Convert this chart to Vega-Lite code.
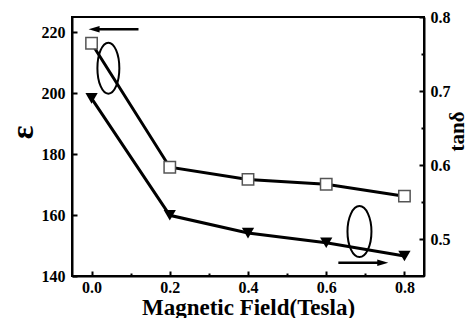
{
  "$schema": "https://vega.github.io/schema/vega-lite/v6.json",
  "width": 352,
  "height": 259,
  "autosize": "none",
  "padding": {"left": 72, "top": 17, "right": 45, "bottom": 42},
  "background": "white",
  "config": {
    "view": {"stroke": "black", "strokeWidth": 2},
    "axis": {
      "grid": false,
      "domainColor": "black",
      "domainWidth": 2,
      "tickColor": "black",
      "tickWidth": 2,
      "tickSize": -5,
      "labelPadding": 8,
      "labelFont": "Liberation Serif",
      "labelFontWeight": "bold",
      "labelFontSize": 16,
      "labelColor": "black",
      "titleFont": "Liberation Serif",
      "titleFontWeight": "bold",
      "titleColor": "black"
    }
  },
  "datasets": {
    "main": [
      {"field": 0.0, "eps": 216.4, "tand": 0.690},
      {"field": 0.2, "eps": 175.7, "tand": 0.532},
      {"field": 0.4, "eps": 171.7, "tand": 0.508},
      {"field": 0.6, "eps": 170.1, "tand": 0.495},
      {"field": 0.8, "eps": 166.2, "tand": 0.477}
    ],
    "epsNote": [{"cx": 0.043, "cy": 208.2, "ax1": 0.12, "ax2": 0.01, "ay": 221, "hx": 0.0064}],
    "tandNote": [{"cx": 0.685, "cy": 0.510, "ax1": 0.631, "ax2": 0.74, "ay": 0.468, "hx": 0.7446}]
  },
  "layer": [
    {
      "layer": [
        {
          "data": {"name": "main"},
          "mark": {"type": "line", "color": "black", "strokeWidth": 3},
          "encoding": {
            "x": {
              "field": "field", "type": "quantitative",
              "scale": {"domain": [-0.05, 0.85], "nice": false, "zero": false},
              "axis": {
                "title": "Magnetic Field(Tesla)",
                "titleFontSize": 23,
                "titleBaseline": "alphabetic",
                "titleY": 38,
                "values": [0, 0.1, 0.2, 0.3, 0.4, 0.5, 0.6, 0.7, 0.8],
                "labelExpr": "round(datum.value*10)%2==1 ? '' : format(datum.value,'.1f')",
                "tickDash": {"condition": {"test": "round(datum.value*10)%2==1", "value": [3, 20]}, "value": [10, 0]}
              }
            },
            "y": {
              "field": "eps", "type": "quantitative",
              "scale": {"domain": [140, 225], "nice": false, "zero": false},
              "axis": {
                "title": "ε",
                "titleFontSize": 32,
                "titleBaseline": "middle",
                "titleX": -50,
                "titleY": 115,
                "labelPadding": 12,
                "values": [140, 150, 160, 170, 180, 190, 200, 210, 220],
                "labelExpr": "datum.value % 20 != 0 ? '' : format(datum.value,'d')",
                "tickDash": {"condition": {"test": "datum.value % 20 != 0", "value": [3, 20]}, "value": [10, 0]}
              }
            }
          }
        },
        {
          "data": {"name": "main"},
          "mark": {"type": "point", "shape": "square", "filled": false, "fill": "white", "fillOpacity": 1, "stroke": "#555555", "strokeWidth": 1.5, "size": 130, "opacity": 1},
          "encoding": {
            "x": {"field": "field", "type": "quantitative"},
            "y": {"field": "eps", "type": "quantitative"}
          }
        },
        {
          "data": {"name": "epsNote"},
          "mark": {"type": "point", "shape": "M0,-1 A0.43,1 0 1,1 0,1 A0.43,1 0 1,1 0,-1 Z", "filled": false, "stroke": "black", "strokeWidth": 2, "size": 2601, "opacity": 1},
          "encoding": {
            "x": {"field": "cx", "type": "quantitative"},
            "y": {"field": "cy", "type": "quantitative"}
          }
        },
        {
          "data": {"name": "epsNote"},
          "mark": {"type": "rule", "color": "black", "strokeWidth": 2.5},
          "encoding": {
            "x": {"field": "ax1", "type": "quantitative"},
            "x2": {"field": "ax2"},
            "y": {"field": "ay", "type": "quantitative"}
          }
        },
        {
          "data": {"name": "epsNote"},
          "mark": {"type": "point", "shape": "M-1,0 L1,-0.6 L1,0.6 Z", "filled": true, "color": "black", "size": 121, "opacity": 1},
          "encoding": {
            "x": {"field": "hx", "type": "quantitative"},
            "y": {"field": "ay", "type": "quantitative"}
          }
        }
      ]
    },
    {
      "layer": [
        {
          "data": {"name": "main"},
          "mark": {"type": "line", "color": "black", "strokeWidth": 3},
          "encoding": {
            "x": {"field": "field", "type": "quantitative"},
            "y": {
              "field": "tand", "type": "quantitative",
              "scale": {"domain": [0.45, 0.8], "nice": false, "zero": false},
              "axis": {
                "orient": "right",
                "title": "tanδ",
                "titleFontSize": 21,
                "titleAngle": -90,
                "titleBaseline": "middle",
                "titleX": 33,
                "titleY": 114,
                "labelPadding": 11,
                "values": [0.5, 0.55, 0.6, 0.65, 0.7, 0.75, 0.8],
                "labelExpr": "round(datum.value*100)%10==5 ? '' : format(datum.value,'.1f')",
                "tickDash": {"condition": {"test": "round(datum.value*100)%10==5", "value": [3, 20]}, "value": [10, 0]}
              }
            }
          }
        },
        {
          "data": {"name": "main"},
          "mark": {"type": "point", "shape": "triangle-down", "filled": true, "color": "black", "size": 150, "opacity": 1},
          "encoding": {
            "x": {"field": "field", "type": "quantitative"},
            "y": {"field": "tand", "type": "quantitative"}
          }
        },
        {
          "data": {"name": "tandNote"},
          "mark": {"type": "point", "shape": "M0,-1 A0.47,1 0 1,1 0,1 A0.47,1 0 1,1 0,-1 Z", "filled": false, "stroke": "black", "strokeWidth": 2, "size": 2601, "opacity": 1},
          "encoding": {
            "x": {"field": "cx", "type": "quantitative"},
            "y": {"field": "cy", "type": "quantitative"}
          }
        },
        {
          "data": {"name": "tandNote"},
          "mark": {"type": "rule", "color": "black", "strokeWidth": 2.5},
          "encoding": {
            "x": {"field": "ax1", "type": "quantitative"},
            "x2": {"field": "ax2"},
            "y": {"field": "ay", "type": "quantitative"}
          }
        },
        {
          "data": {"name": "tandNote"},
          "mark": {"type": "point", "shape": "M1,0 L-1,-0.6 L-1,0.6 Z", "filled": true, "color": "black", "size": 121, "opacity": 1},
          "encoding": {
            "x": {"field": "hx", "type": "quantitative"},
            "y": {"field": "ay", "type": "quantitative"}
          }
        }
      ]
    }
  ],
  "resolve": {"scale": {"y": "independent"}}
}
